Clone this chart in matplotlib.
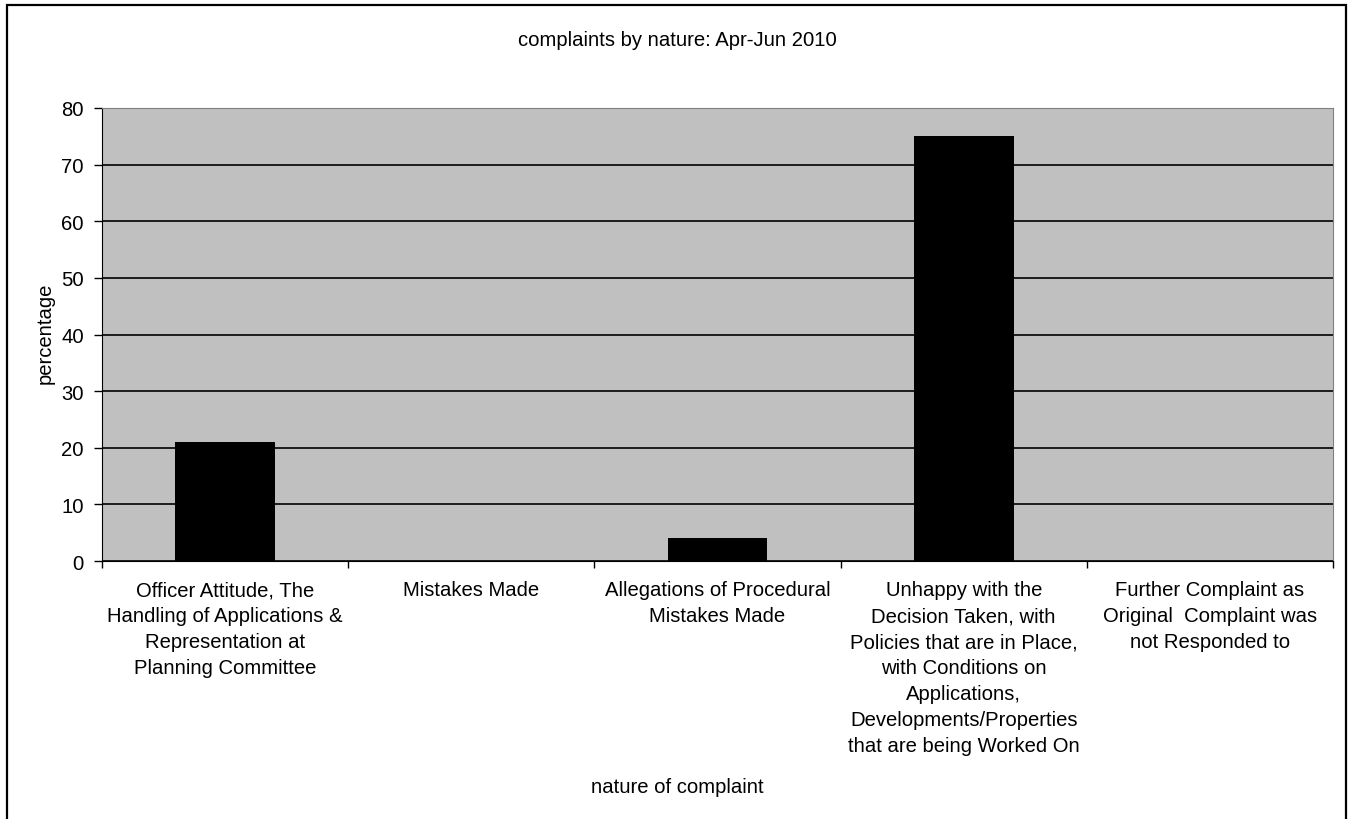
import matplotlib.pyplot as plt
from matplotlib.patches import Rectangle

# Complaint categories and their share (%)
categories = [
    "Officer Attitude, The\nHandling of Applications &\nRepresentation at\nPlanning Committee",
    "Mistakes Made",
    "Allegations of Procedural\nMistakes Made",
    "Unhappy with the\nDecision Taken, with\nPolicies that are in Place,\nwith Conditions on\nApplications,\nDevelopments/Properties\nthat are being Worked On",
    "Further Complaint as\nOriginal  Complaint was\nnot Responded to",
]
percentages = [21, 0, 4, 75, 0]
y_ticks = [0, 10, 20, 30, 40, 50, 60, 70, 80]

plt.rcParams["font.family"] = ["Liberation Sans", "DejaVu Sans"]
FS = 14.6

W, H = 1348, 820
fig = plt.figure(figsize=(W / 100, H / 100), dpi=100)
ax = fig.add_axes([102 / W, 1 - 562 / H, (1333 - 102) / W, (562 - 109) / H])

# outer chart border (bottom edge runs off the canvas)
fig.patches.append(Rectangle((7 / W, -10 / H), (1346 - 7) / W, (814 + 10) / H,
                             transform=fig.transFigure, fill=False,
                             edgecolor="black", linewidth=1.6))

ax.set_facecolor("#c0c0c0")
x = list(range(len(categories)))
ax.bar(x, percentages, width=0.406, color="black", zorder=3)

ax.set_xlim(-0.5, len(categories) - 0.5)
ax.set_ylim(0, 80)
ax.set_yticks(y_ticks)
ax.yaxis.grid(True, color="black", linewidth=1.2, zorder=1)
ax.set_axisbelow(True)

# category ticks sit on the boundaries, labels in the middle
ax.set_xticks([i - 0.5 for i in range(len(categories) + 1)])
ax.set_xticklabels([])
ax.set_xticks(x, minor=True)
ax.set_xticklabels(categories, minor=True, fontsize=FS, va="top", ha="center",
                   linespacing=1.46)
ax.tick_params(axis="x", which="minor", length=0, pad=14)
ax.tick_params(axis="x", which="major", length=5, direction="out", width=1)
ax.tick_params(axis="y", length=6, direction="out", width=1, labelsize=FS, pad=7)

for side in ["top", "right"]:
    ax.spines[side].set_color("#808080")
for side in ["left", "bottom"]:
    ax.spines[side].set_color("black")

fig.text(677 / W, 1 - 41 / H, "complaints by nature: Apr-Jun 2010",
         ha="center", va="center", fontsize=FS)
fig.text(677 / W, 1 - 788 / H, "nature of complaint",
         ha="center", va="center", fontsize=FS)
fig.text(45 / W, 1 - 333 / H, "percentage", ha="center", va="center",
         rotation=90, fontsize=FS)

fig.savefig("out.png", dpi=100)
